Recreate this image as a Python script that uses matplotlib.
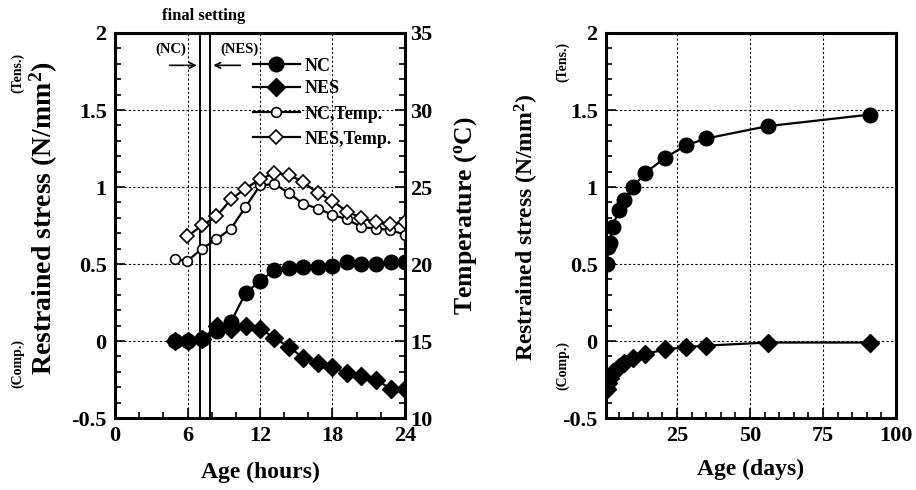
import matplotlib
matplotlib.use("Agg")
import matplotlib.pyplot as plt
from matplotlib.ticker import MultipleLocator, FormatStrFormatter
from matplotlib.lines import Line2D

plt.rcParams['font.family'] = 'Liberation Serif'
plt.rcParams['font.weight'] = 'bold'
plt.rcParams['axes.unicode_minus'] = False
plt.rcParams['mathtext.fontset'] = 'custom'
plt.rcParams['mathtext.rm'] = 'Liberation Serif:bold'
plt.rcParams['mathtext.it'] = 'Liberation Serif:bold'
plt.rcParams['mathtext.bf'] = 'Liberation Serif:bold'

# early age (hours)
hours = [5, 6, 7.2, 8.4, 9.6, 10.8, 12, 13.2, 14.4, 15.6, 16.8, 18, 19.2, 20.4, 21.6, 22.8, 24]
nc_stress = [0, 0, 0.016, 0.065, 0.125, 0.31, 0.39, 0.46, 0.475, 0.48, 0.48, 0.49, 0.51, 0.50, 0.50, 0.51, 0.51]
nes_stress = [0, 0, 0.01, 0.095, 0.08, 0.10, 0.08, 0.02, -0.04, -0.11, -0.14, -0.17, -0.21, -0.23, -0.25, -0.31, -0.31]
nc_temp = [20.3, 20.2, 21.0, 21.6, 22.3, 23.7, 25.1, 25.2, 24.6, 23.9, 23.6, 23.2, 22.9, 22.4, 22.3, 22.2, 21.9]
hours_nes_temp = [6, 7.2, 8.4, 9.6, 10.8, 12, 13.2, 14.4, 15.6, 16.8, 18, 19.2, 20.4, 21.6, 22.8, 24]
nes_temp = [21.8, 22.5, 23.1, 24.2, 24.9, 25.5, 25.9, 25.8, 25.3, 24.6, 24.1, 23.4, 23.0, 22.7, 22.6, 22.7]
final_setting = [7.0, 7.9]  # NC, NES

# long term (days)
days = [1, 1.5, 2, 3, 5, 7, 10, 14, 21, 28, 35, 56, 91]
nc_days = [0.50, 0.61, 0.635, 0.74, 0.85, 0.915, 1.0, 1.09, 1.19, 1.27, 1.315, 1.395, 1.47]
nes_days = [-0.31, -0.27, -0.24, -0.20, -0.17, -0.14, -0.11, -0.085, -0.055, -0.04, -0.03, -0.01, -0.01]

W, H = 916, 490
fig = plt.figure(figsize=(W / 100, H / 100), dpi=100)

def px(x0, y0, x1, y1):
    return [x0 / W, 1 - y1 / H, (x1 - x0) / W, (y1 - y0) / H]

ax1 = fig.add_axes(px(115, 33, 405, 418))
ax3 = fig.add_axes(px(606, 33, 896, 418))

lw = 1.6
for ax in (ax1, ax3):
    ax.set_ylim(-0.5, 2)
    ax.yaxis.set_major_locator(MultipleLocator(0.5))
    ax.yaxis.set_minor_locator(MultipleLocator(0.1))
    ax.yaxis.set_major_formatter(FormatStrFormatter('%g'))
    ax.tick_params(which='both', direction='in', labelsize=16, width=1.2, pad=6)
    ax.tick_params(which='major', length=7)
    ax.tick_params(which='minor', length=4)
    for s in ax.spines.values():
        s.set_linewidth(2.2)
    ax.grid(True, which='major', linestyle=(0, (2, 2)), color='black', linewidth=0.8)
    ax.set_axisbelow(True)

# ---- left panel ----
ax1.set_xlim(0, 24)
ax1.xaxis.set_major_locator(MultipleLocator(6))
ax1.xaxis.set_minor_locator(MultipleLocator(2))
ax1.plot(hours, nes_stress, color='black', lw=lw, marker='D', ms=9, zorder=3)
ax1.plot(hours, nc_stress, color='black', lw=lw, marker='o', ms=10.5, zorder=4)
for xs in final_setting:
    ax1.axvline(xs, color='black', lw=1.4)

ax2 = ax1.twinx()
ax2.set_ylim(10, 35)
ax2.yaxis.set_major_locator(MultipleLocator(5))
ax2.yaxis.set_minor_locator(MultipleLocator(1))
ax2.tick_params(which='both', direction='in', labelsize=16, width=1.2, pad=4)
ax2.tick_params(which='major', length=7)
ax2.tick_params(which='minor', length=4)
ax2.plot(hours, nc_temp, color='black', lw=lw, marker='o', ms=7, mfc='white', mew=1.2)
ax2.plot(hours_nes_temp, nes_temp, color='black', lw=lw, marker='D', ms=7.5, mfc='white', mew=1.2)

ax1.set_xlabel('Age (hours)', fontsize=17, fontweight='bold', labelpad=11)
ax1.set_ylabel('Restrained stress (N/mm$^{2}$)', fontsize=20, fontweight='bold')
ax1.yaxis.set_label_coords(-0.19, 0.52)
ax2.set_ylabel('Temperature ($^{o}$C)', fontsize=18.5, fontweight='bold')
ax2.yaxis.set_label_coords(1.162, 0.525)

fig.text(18 / W, 1 - 73 / H, '(Tens.)', rotation=90, fontsize=10, ha='center', va='center')
fig.text(18 / W, 1 - 363 / H, '(Comp.)', rotation=90, fontsize=10, ha='center', va='center')
fig.text(563 / W, 1 - 62 / H, '(Tens.)', rotation=90, fontsize=10, ha='center', va='center')
fig.text(563 / W, 1 - 365 / H, '(Comp.)', rotation=90, fontsize=10, ha='center', va='center')

ax1.text(7.3, 2.06, 'final setting', fontsize=12, ha='center', va='bottom')
ax1.text(4.6, 1.85, '(NC)', fontsize=10.5, ha='center', va='bottom')
ax1.text(10.3, 1.85, '(NES)', fontsize=10.5, ha='center', va='bottom')
ax1.annotate('', xy=(final_setting[0], 1.79), xytext=(4.3, 1.79),
             arrowprops=dict(arrowstyle='->', color='black', lw=1.2))
ax1.annotate('', xy=(final_setting[1], 1.79), xytext=(10.6, 1.79),
             arrowprops=dict(arrowstyle='->', color='black', lw=1.2))

h1 = [Line2D([], [], color='black', lw=lw, marker='o', ms=10.5),
      Line2D([], [], color='black', lw=lw, marker='D', ms=9)]
h2 = [Line2D([], [], color='black', lw=lw, marker='o', ms=7, mfc='white', mew=1.2),
      Line2D([], [], color='black', lw=lw, marker='D', ms=7.5, mfc='white', mew=1.2)]
leg1 = ax2.legend(h1, ['NC', 'NES'], loc='upper left', bbox_to_anchor=(0.45, 0.955),
                  frameon=False, fontsize=13, handlelength=2.6, handletextpad=0.25,
                  labelspacing=0.3, borderaxespad=0)
ax2.add_artist(leg1)
ax2.legend(h2, ['NC,Temp.', 'NES,Temp.'], loc='upper left', bbox_to_anchor=(0.45, 0.83),
           frameon=False, fontsize=13, handlelength=2.6, handletextpad=0.25,
           labelspacing=0.45, borderaxespad=0)

# ---- right panel ----
ax3.set_xlim(0.7, 100)
ax3.set_xticks([25, 50, 75, 100])
ax3.xaxis.set_minor_locator(MultipleLocator(5))
ax3.plot(days, nc_days, color='black', lw=lw, marker='o', ms=10.5)
ax3.plot(days, nes_days, color='black', lw=lw, marker='D', ms=9)
ax3.set_xlabel('Age (days)', fontsize=17, fontweight='bold', labelpad=9)
ax3.set_ylabel('Restrained stress (N/mm$^{2}$)', fontsize=17, fontweight='bold')
ax3.yaxis.set_label_coords(-0.224, 0.496)

plt.savefig('out.png', dpi=100)
